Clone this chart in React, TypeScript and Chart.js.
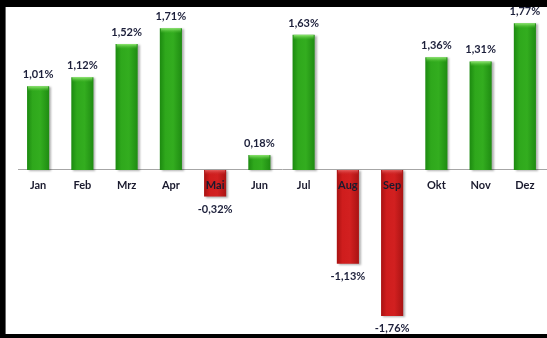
import React, { useEffect, useRef } from "react";
import { Chart, registerables } from "chart.js";

Chart.register(...registerables);

const months = ["Jan", "Feb", "Mrz", "Apr", "Mai", "Jun", "Jul", "Aug", "Sep", "Okt", "Nov", "Dez"];
const values = [1.01, 1.12, 1.52, 1.71, -0.32, 0.18, 1.63, -1.13, -1.76, 1.36, 1.31, 1.77];

const fmt = (v: number) => v.toFixed(2).replace(".", ",") + "%";

const W = 547;
const H = 338;

const framePlugin = {
  id: "frame",
  beforeDraw(chart: any) {
    const ctx = chart.ctx;
    ctx.save();
    ctx.fillStyle = "#000";
    ctx.fillRect(0, 0, W, H);
    ctx.fillStyle = "#fff";
    ctx.fillRect(6, 7, W - 6, H - 7 - 4);
    ctx.fillStyle = "#6a6a6a";
    ctx.fillRect(5, 7, 1, H - 7 - 4);
    ctx.restore();
  },
  beforeDatasetsDraw(chart: any) {
    const ctx = chart.ctx;
    const y0 = Math.round(chart.scales.y.getPixelForValue(0)) - 0.5;
    ctx.save();
    ctx.strokeStyle = "#a6a6a6";
    ctx.lineWidth = 1;
    ctx.beginPath();
    ctx.moveTo(18, y0);
    ctx.lineTo(W, y0);
    ctx.stroke();
    ctx.restore();
    ctx.save();
    ctx.shadowColor = "rgba(0,0,0,0.3)";
    ctx.shadowOffsetX = 2;
    ctx.shadowOffsetY = 1;
    ctx.shadowBlur = 2;
  },
  afterDatasetsDraw(chart: any) {
    const ctx = chart.ctx;
    ctx.restore();
    const meta = chart.getDatasetMeta(0);
    const xs = chart.scales.x;
    const y0 = chart.scales.y.getPixelForValue(0);
    ctx.save();
    meta.data.forEach((el: any, i: number) => {
      const v = values[i];
      const half = el.width / 2;
      const top = Math.min(el.y, el.base);
      if (!isFinite(top) || !isFinite(el.x)) return;
      const g = ctx.createLinearGradient(0, top, 0, top + 5);
      if (v >= 0) {
        g.addColorStop(0, "rgba(150,235,120,0.95)");
        g.addColorStop(1, "rgba(80,190,50,0)");
      } else {
        g.addColorStop(0, "rgba(235,110,110,0.8)");
        g.addColorStop(1, "rgba(200,40,40,0)");
      }
      ctx.fillStyle = g;
      ctx.fillRect(el.x - half + 1, top, el.width - 2, 5);
    });
    ctx.font = "bold 11px Lato, 'Open Sans', sans-serif";
    ctx.fillStyle = "#1a1a2e";
    ctx.textAlign = "center";
    ctx.textBaseline = "alphabetic";
    months.forEach((m, i) => {
      ctx.fillText(m, xs.getPixelForValue(i), y0 + 19);
    });
    ctx.fillStyle = "#1c1f3a";
    meta.data.forEach((el: any, i: number) => {
      const v = values[i];
      if (v >= 0) ctx.fillText(fmt(v), el.x, el.y - 8);
      else ctx.fillText(fmt(v), el.x, el.y + 16);
    });
    ctx.restore();
  },
};

function barFill(ctx: any) {
  const chart = ctx.chart;
  const i = ctx.dataIndex;
  const v = values[i];
  const flat = v >= 0 ? "#2aa31a" : "#cc1c1c";
  const xs = chart.scales && chart.scales.x;
  if (!xs || i === undefined) return flat;
  const cx = xs.getPixelForValue(i);
  const half = ((xs.width || 0) / months.length) * 0.5 / 2;
  if (!isFinite(cx) || !isFinite(half) || half <= 0) return flat;
  const g = chart.ctx.createLinearGradient(cx - half, 0, cx + half, 0);
  if (v >= 0) {
    g.addColorStop(0, "#1c8a10");
    g.addColorStop(0.25, "#2fa81c");
    g.addColorStop(0.6, "#33ad1f");
    g.addColorStop(1, "#1f8c12");
  } else {
    g.addColorStop(0, "#a81212");
    g.addColorStop(0.25, "#cf1d1d");
    g.addColorStop(0.6, "#d22020");
    g.addColorStop(1, "#a91313");
  }
  return g;
}

export default function App() {
  const ref = useRef<HTMLCanvasElement | null>(null);
  useEffect(() => {
    document.body.style.margin = "0";
    const chart = new Chart(ref.current as HTMLCanvasElement, {
      type: "bar",
      data: {
        labels: months,
        datasets: [
          {
            data: values,
            backgroundColor: barFill as any,
            borderWidth: 0,
            barPercentage: 0.5,
            categoryPercentage: 1,
          },
        ],
      },
      options: {
        animation: false,
        responsive: false,
        maintainAspectRatio: false,
        layout: { padding: { left: 16, right: -2, top: 7, bottom: 5 } },
        plugins: { legend: { display: false }, tooltip: { enabled: false } },
        scales: {
          x: { display: false, offset: true },
          y: { display: false, min: -1.966, max: 1.966 },
        },
      },
      plugins: [framePlugin],
    });
    return () => chart.destroy();
  }, []);
  return (
    <div style={{ width: W, height: H }}>
      <canvas ref={ref} width={W} height={H} style={{ display: "block", width: W, height: H }} />
    </div>
  );
}
